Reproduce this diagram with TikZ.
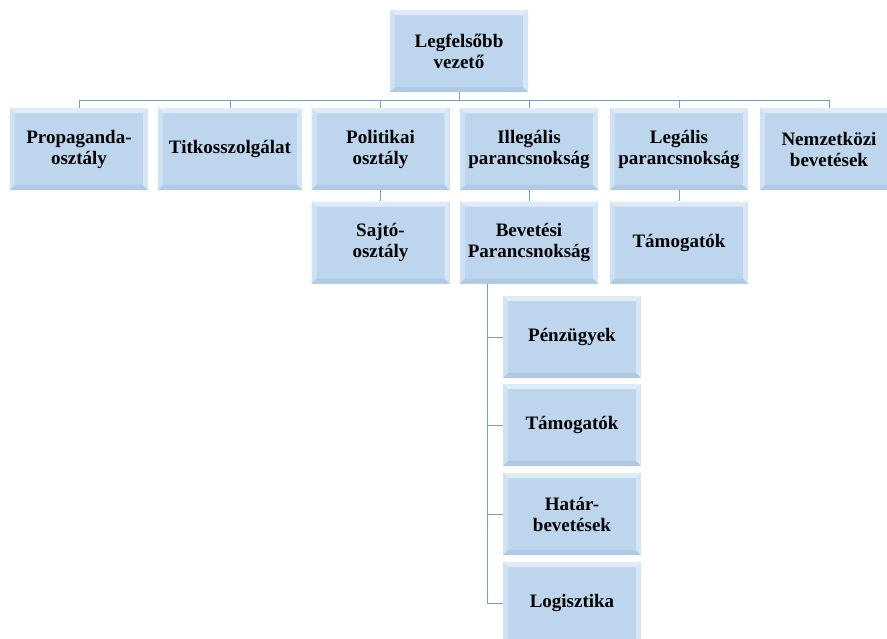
\documentclass[tikz,border=0pt]{standalone}
\usepackage{fontspec}
\setmainfont{Liberation Serif}
\usetikzlibrary{calc}

\definecolor{unitfill}{RGB}{189,214,238}
\definecolor{unittop}{RGB}{223,236,248}
\definecolor{unitleft}{RGB}{207,225,243}
\definecolor{unitright}{RGB}{214,230,245}
\definecolor{unitbottom}{RGB}{176,202,229}
\definecolor{linkblue}{RGB}{110,160,215}

\tikzset{
	unit/.style={fill=unitfill, minimum width=138pt, minimum height=82pt,
		inner sep=2pt, align=center,
		font=\fontsize{19}{21}\selectfont\bfseries,
		path picture={
			\fill[unittop] (path picture bounding box.north west) -- (path picture bounding box.north east)
				-- ([shift={(-5pt,-5pt)}]path picture bounding box.north east)
				-- ([shift={(5pt,-5pt)}]path picture bounding box.north west) -- cycle;
			\fill[unitleft] (path picture bounding box.north west) -- (path picture bounding box.south west)
				-- ([shift={(5pt,5pt)}]path picture bounding box.south west)
				-- ([shift={(5pt,-5pt)}]path picture bounding box.north west) -- cycle;
			\fill[unitright] (path picture bounding box.north east) -- (path picture bounding box.south east)
				-- ([shift={(-5pt,5pt)}]path picture bounding box.south east)
				-- ([shift={(-5pt,-5pt)}]path picture bounding box.north east) -- cycle;
			\fill[unitbottom] (path picture bounding box.south west) -- (path picture bounding box.south east)
				-- ([shift={(-5pt,5pt)}]path picture bounding box.south east)
				-- ([shift={(5pt,5pt)}]path picture bounding box.south west) -- cycle;
		}},
	link/.style={draw=linkblue, line width=0.8pt}
}

\begin{document}
\begin{tikzpicture}[x=1pt, y=-1pt]

	\useasboundingbox (0,0) rectangle (887,638);
	\clip (0,0) rectangle (887,638);

	% top
	\node[unit] (chief) at (459,51) {Legfelsőbb\\vezető};

	% first level
	\node[unit] (prop)  at (79,149)    {Propaganda-\\osztály};
	\node[unit, minimum width=144pt] (secret) at (230,149) {Titkosszolgálat};
	\node[unit] (pol)   at (380.5,149) {Politikai\\osztály};
	\node[unit] (illeg) at (529,149)   {Illegális\\parancsnokság};
	\node[unit] (leg)   at (679,149)   {Legális\\parancsnokság};
	\node[unit] (intl)  at (829,149)   {Nemzetközi\\bevetések};

	% second level
	\node[unit] (press) at (380.5,242.5) {Sajtó-\\osztály};
	\node[unit] (ops)   at (529,242.5)   {Bevetési\\Parancsnokság};
	\node[unit] (supp)  at (679,242.5)   {Támogatók};

	% under Bevetési Parancsnokság
	\node[unit] (fin)    at (572,337) {Pénzügyek};
	\node[unit] (opsupp) at (572,425) {Támogatók};
	\node[unit] (border) at (572,514) {Határ-\\bevetések};
	\node[unit] (logi)   at (572,603) {Logisztika};

	\coordinate (bus) at ($(chief.south)+(0,8)$);
	\coordinate (spine) at ($(ops.south west)+(28,0)$);

	\draw[link] (chief.south) -- (bus);
	\draw[link] (bus) -| (prop.north);
	\draw[link] (bus) -| (secret.north);
	\draw[link] (bus) -| (pol.north);
	\draw[link] (bus) -| (illeg.north);
	\draw[link] (bus) -| (leg.north);
	\draw[link] (bus) -| (intl.north);

	\draw[link] (pol.south) -- (press.north);
	\draw[link] (illeg.south) -- (ops.north);
	\draw[link] (leg.south) -- (supp.north);

	\draw[link] (spine) |- (fin.west);
	\draw[link] (spine) |- (opsupp.west);
	\draw[link] (spine) |- (border.west);
	\draw[link] (spine) |- (logi.west);

\end{tikzpicture}
\end{document}
